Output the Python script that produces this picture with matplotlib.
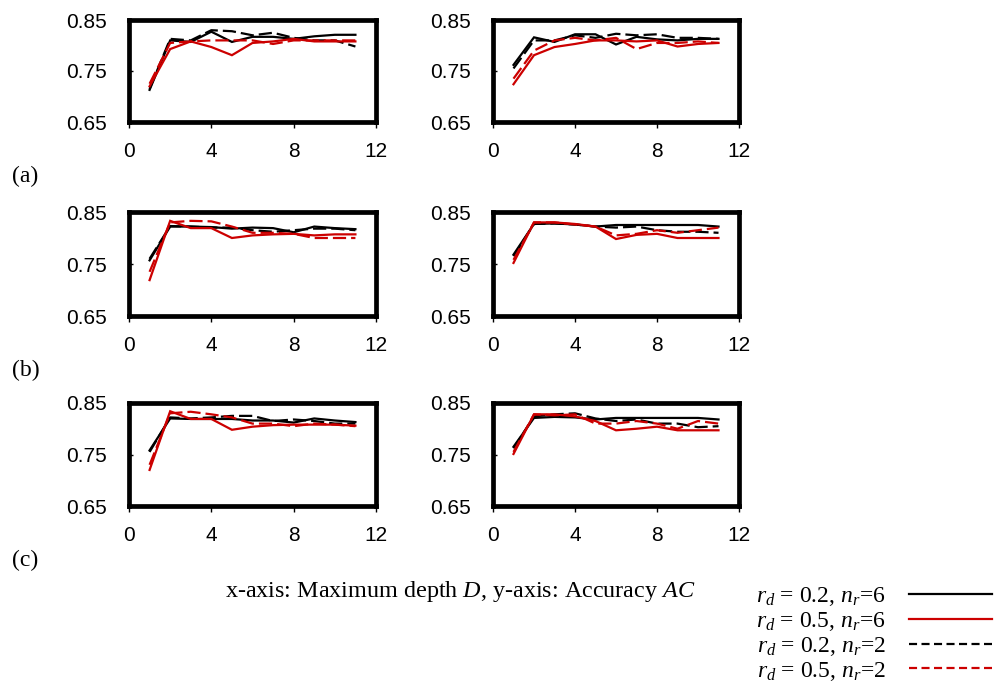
import matplotlib
matplotlib.use('Agg')
import matplotlib.pyplot as plt
from matplotlib.lines import Line2D

plt.rcParams['mathtext.fontset'] = 'custom'
plt.rcParams['mathtext.rm'] = 'Liberation Serif'
plt.rcParams['mathtext.it'] = 'Liberation Serif:italic'
plt.rcParams['lines.scale_dashes'] = False

BLACK = '#000000'
RED = '#CC0000'

depth = [1, 2, 3, 4, 5, 6, 7, 8, 9, 10, 11]
x_ticks = [0, 4, 8, 12]
y_ticks = [0.65, 0.75, 0.85]

# (a) left / right : solid rd=0.2, solid rd=0.5, dashed rd=0.2, dashed rd=0.5
a_l_s02 = [0.713, 0.810, 0.807, 0.827, 0.807, 0.817, 0.817, 0.813, 0.818, 0.821, 0.821]
a_l_s05 = [0.720, 0.793, 0.808, 0.797, 0.781, 0.805, 0.808, 0.813, 0.808, 0.808, 0.808]
a_l_d02 = [0.715, 0.813, 0.810, 0.830, 0.828, 0.820, 0.825, 0.815, 0.810, 0.810, 0.798]
a_l_d05 = [0.725, 0.805, 0.808, 0.810, 0.810, 0.810, 0.803, 0.810, 0.810, 0.810, 0.810]

a_r_s02 = [0.762, 0.816, 0.807, 0.822, 0.822, 0.802, 0.817, 0.812, 0.810, 0.813, 0.813]
a_r_s05 = [0.724, 0.781, 0.797, 0.803, 0.810, 0.810, 0.808, 0.810, 0.798, 0.803, 0.805]
a_r_d02 = [0.755, 0.810, 0.810, 0.820, 0.815, 0.823, 0.820, 0.822, 0.815, 0.815, 0.813]
a_r_d05 = [0.735, 0.790, 0.810, 0.815, 0.810, 0.815, 0.793, 0.805, 0.805, 0.808, 0.805]

# (b)
b_l_s02 = [0.757, 0.822, 0.822, 0.821, 0.818, 0.820, 0.819, 0.811, 0.822, 0.819, 0.817]
b_l_s05 = [0.719, 0.833, 0.819, 0.819, 0.800, 0.805, 0.807, 0.808, 0.805, 0.807, 0.807]
b_l_d02 = [0.760, 0.823, 0.822, 0.820, 0.820, 0.815, 0.812, 0.815, 0.818, 0.818, 0.815]
b_l_d05 = [0.735, 0.830, 0.833, 0.832, 0.822, 0.810, 0.810, 0.808, 0.800, 0.800, 0.800]

b_r_s02 = [0.768, 0.827, 0.828, 0.826, 0.822, 0.825, 0.825, 0.825, 0.825, 0.825, 0.822]
b_r_s05 = [0.752, 0.830, 0.830, 0.827, 0.822, 0.798, 0.806, 0.808, 0.800, 0.800, 0.800]
b_r_d02 = [0.765, 0.827, 0.828, 0.826, 0.822, 0.820, 0.822, 0.815, 0.812, 0.812, 0.810]
b_r_d05 = [0.758, 0.830, 0.830, 0.826, 0.822, 0.805, 0.808, 0.815, 0.810, 0.815, 0.820]

# (c)
c_l_s02 = [0.758, 0.820, 0.819, 0.819, 0.819, 0.816, 0.816, 0.812, 0.820, 0.816, 0.813]
c_l_s05 = [0.720, 0.834, 0.819, 0.819, 0.798, 0.804, 0.807, 0.808, 0.808, 0.808, 0.806]
c_l_d02 = [0.755, 0.822, 0.820, 0.822, 0.825, 0.825, 0.815, 0.818, 0.815, 0.810, 0.810]
c_l_d05 = [0.730, 0.830, 0.833, 0.828, 0.822, 0.810, 0.810, 0.805, 0.810, 0.808, 0.805]

c_r_s02 = [0.765, 0.821, 0.823, 0.822, 0.818, 0.821, 0.821, 0.821, 0.821, 0.821, 0.818]
c_r_s05 = [0.751, 0.828, 0.828, 0.824, 0.815, 0.797, 0.800, 0.804, 0.797, 0.797, 0.797]
c_r_d02 = [0.762, 0.824, 0.828, 0.830, 0.820, 0.815, 0.818, 0.810, 0.810, 0.803, 0.805]
c_r_d05 = [0.755, 0.828, 0.826, 0.828, 0.810, 0.810, 0.815, 0.810, 0.800, 0.815, 0.810]

legend_labels = [r'$r_d$ = 0.2, $n_r$=6', r'$r_d$ = 0.5, $n_r$=6',
                 r'$r_d$ = 0.2, $n_r$=2', r'$r_d$ = 0.5, $n_r$=2']

W, H = 1001, 686
fig = plt.figure(figsize=(W / 100, H / 100), dpi=100, facecolor='white')

# axes boxes in pixels: left, top, right, bottom
col_x = [(129, 376), (493, 739)]
row_y = [(20, 122), (212, 316), (403, 506)]

panels = [
    [(a_l_s02, a_l_d02, a_l_s05, a_l_d05), (a_r_s02, a_r_d02, a_r_s05, a_r_d05)],
    [(b_l_s02, b_l_d02, b_l_s05, b_l_d05), (b_r_s02, b_r_d02, b_r_s05, b_r_d05)],
    [(c_l_s02, c_l_d02, c_l_s05, c_l_d05), (c_r_s02, c_r_d02, c_r_s05, c_r_d05)],
]
styles = [(BLACK, '-'), (BLACK, 'd'), (RED, '-'), (RED, 'd')]

for r, (yt, yb) in enumerate(row_y):
    for c, (xl, xr) in enumerate(col_x):
        ax = fig.add_axes([xl / W, 1 - yb / H, (xr - xl) / W, (yb - yt) / H])
        for series, (col, ls) in zip(panels[r][c], styles):
            if ls == '-':
                ax.plot(depth, series, color=col, lw=1.6, solid_joinstyle='miter')
            else:
                ax.plot(depth, series, color=col, lw=1.6, dashes=(9.5, 3.6))
        ax.set_xlim(0, 12)
        ax.set_ylim(0.65, 0.85)
        ax.set_xticks(x_ticks)
        ax.set_yticks(y_ticks)
        ax.set_yticklabels([f'{v:.2f}' for v in y_ticks])
        for sp in ax.spines.values():
            sp.set_linewidth(3.4)
            sp.set_color(BLACK)
        ax.tick_params(axis='x', direction='out', length=4.5, width=1, pad=10,
                       labelsize=15)
        ax.tick_params(axis='y', direction='in', length=3, width=1, pad=16,
                       labelsize=15)
        for lab in ax.get_xticklabels() + ax.get_yticklabels():
            lab.set_fontfamily('Liberation Sans')
    fig.text(12 / W, 1 - (yb + 54) / H, '(' + 'abc'[r] + ')', fontsize=17,
             fontfamily='Liberation Serif', va='center', ha='left')

fig.text(225 / W, 1 - 592 / H, 'x-axis: Maximum depth $D$, y-axis: Accuracy $AC$',
         fontsize=17.4, fontfamily='Liberation Serif', va='center', ha='left')

handles = [
    Line2D([], [], color=BLACK, lw=1.6),
    Line2D([], [], color=RED, lw=1.6),
    Line2D([], [], color=BLACK, lw=1.6, dashes=(5.8, 3.2)),
    Line2D([], [], color=RED, lw=1.6, dashes=(5.8, 3.2)),
]
leg = fig.legend(handles, legend_labels, loc='upper right',
                 bbox_to_anchor=(992 / W, 1 - 585 / H), frameon=False,
                 markerfirst=False, handlelength=3.5, handletextpad=1.0,
                 labelspacing=0.08, borderpad=0, borderaxespad=0,
                 prop={'family': 'Liberation Serif', 'size': 17})

fig.savefig('out.png', dpi=100, facecolor='white')
